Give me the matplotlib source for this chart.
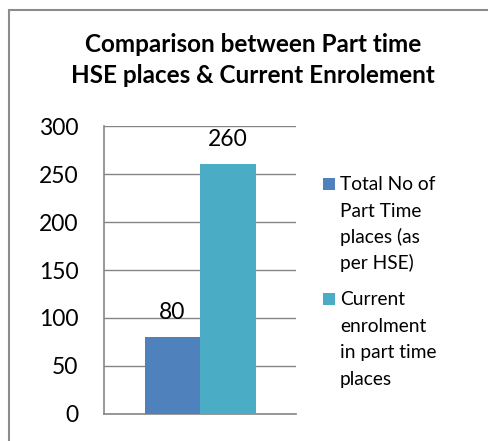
import matplotlib.pyplot as plt
from matplotlib.patches import Rectangle

series = ['Total No of\nPart Time\nplaces (as\nper HSE)',
          'Current\nenrolment\nin part time\nplaces']
values = [80, 260]
colors = ['#4F81BD', '#4BACC6']
yticks = [0, 50, 100, 150, 200, 250, 300]

plt.rcParams['font.family'] = ['Lato', 'DejaVu Sans']

W, H = 489, 441
fig = plt.figure(figsize=(W / 100, H / 100), dpi=100)

# outer chart frame (cut off at right and bottom)
fig.patches.append(Rectangle((9 / W, -0.1), 1.2, 1.1 - 10 / H,
                             transform=fig.transFigure, fill=False,
                             edgecolor='#8c8c8c', linewidth=1.5))

ax = fig.add_axes([104 / W, 1 - 414 / H, 192 / W, 288 / H])
x = [145 + 27.5, 200 + 28]
widths = [55, 56]
for i in range(2):
    ax.bar(x[i], values[i], width=widths[i], color=colors[i], zorder=3)
    ax.text(x[i], values[i] + 15, str(values[i]), ha='center', va='bottom',
            fontsize=16.5, color='black')

ax.set_xlim(104, 296)
ax.set_ylim(0, 300)
ax.set_yticks(yticks)
ax.set_xticks([])
ax.grid(axis='y', color='#868686', linewidth=1, zorder=0)
for s in ['top', 'right']:
    ax.spines[s].set_visible(False)
for s in ['left', 'bottom']:
    ax.spines[s].set_color('#868686')
    ax.spines[s].set_linewidth(1.2)
ax.tick_params(axis='y', length=0, labelsize=16.5, pad=18.5)

fig.text(253 / W, 1 - 60 / H,
         'Comparison between Part time\nHSE places & Current Enrolement',
         ha='center', va='center', fontsize=17.5, fontweight='bold',
         linespacing=1.4)

# legend drawn by hand so the swatch sits at the first text line
leg_base = [190, 305]
for i in range(2):
    fig.patches.append(Rectangle((323 / W, 1 - leg_base[i] / H), 12 / W, 12 / H,
                                 transform=fig.transFigure,
                                 facecolor=colors[i], edgecolor='none'))
    for j, line in enumerate(series[i].split('\n')):
        fig.text(340 / W, 1 - (leg_base[i] + 26.5 * j) / H, line,
                 ha='left', va='baseline', fontsize=13.8)

fig.savefig('out.png', dpi=100)
